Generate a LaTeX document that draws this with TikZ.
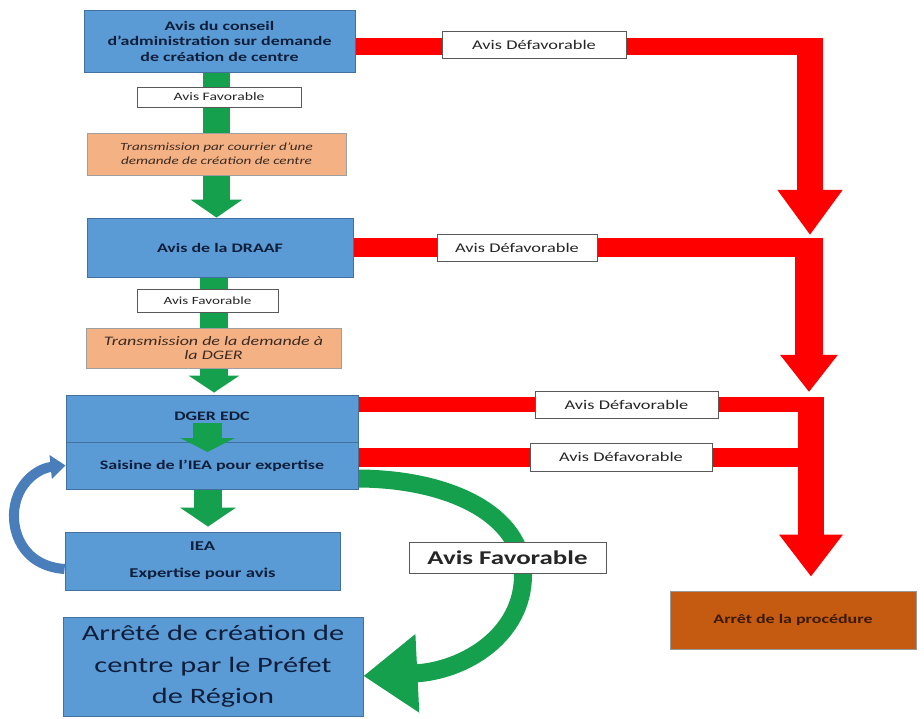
\documentclass[tikz,border=0pt]{standalone}
\usepackage{fontspec}
\setmainfont[FakeStretch=1.38]{Carlito}
\usetikzlibrary{arrows.meta}
\definecolor{boxblue}{HTML}{5B9BD5}
\definecolor{boxedge}{HTML}{41719C}
\definecolor{peach}{HTML}{F4B183}
\definecolor{okgreen}{HTML}{14A04C}
\definecolor{stopbrown}{HTML}{C55A11}
\definecolor{navytext}{HTML}{0F1E3A}
\definecolor{loopblue}{HTML}{4A7EBB}
\definecolor{stoptext}{HTML}{3B1A05}
\definecolor{peachtext}{HTML}{3A2A22}
\pgfdeclarelayer{bg}\pgfsetlayers{bg,main}
\begin{document}
\begin{tikzpicture}[x=1pt,y=-1pt,
  bluebox/.style={draw=boxedge, line width=0.8, fill=boxblue, text=navytext, align=center, inner sep=0},
  peachbox/.style={draw=gray!75, line width=0.8, fill=peach, text=peachtext, align=center, inner sep=0},
  tagbox/.style={draw=gray!70!black, line width=0.8, fill=white, text=black!85, inner sep=0, align=center},
  stopbox/.style={draw=gray!80, line width=0.8, fill=stopbrown, text=stoptext, inner sep=0, align=center},
  redband/.style={draw=red, line join=miter},
  greenarrow/.style={draw=okgreen, fill=okgreen},
]
\useasboundingbox (0,0) rectangle (924,719);

% ---- nodes ----
\node[bluebox, minimum width=271, minimum height=62, font=\fontsize{13}{15.5}\selectfont\bfseries] (b1) at (219.5,41)
  {Avis du conseil\\d’administration sur demande\\de création de centre};
\node[tagbox, minimum width=164, minimum height=20, font=\fontsize{11.4}{12}\selectfont] (f1) at (219,97)
  {Avis Favorable};
\node[peachbox, minimum width=259, minimum height=42, font=\fontsize{11}{14}\selectfont\itshape] (o1) at (216.5,154)
  {Transmission par courrier d’une\\demande de création de centre};
\node[bluebox, minimum width=266, minimum height=59, font=\fontsize{13}{15}\selectfont\bfseries] (b2) at (220,247.5)
  {Avis de la DRAAF};
\node[tagbox, minimum width=141, minimum height=23, font=\fontsize{11}{12}\selectfont] (f2) at (207.5,300.5)
  {Avis Favorable};
\node[peachbox, minimum width=255, minimum height=40, font=\fontsize{13}{14.5}\selectfont\itshape] (o2) at (213.5,348)
  {Transmission de la demande à\\la DGER};
\node[bluebox, minimum width=292, minimum height=47, font=\fontsize{13}{15}\selectfont\bfseries] (b3a) at (212,418.5)
  {\raisebox{4pt}{DGER EDC}};
\node[bluebox, minimum width=292, minimum height=47, font=\fontsize{13}{15}\selectfont\bfseries] (b3b) at (212,465.5)
  {Saisine de l’IEA pour expertise};
\node[bluebox, minimum width=275, minimum height=58, font=\fontsize{13.5}{27}\selectfont\bfseries] (iea) at (202.5,561)
  {IEA\\Expertise pour avis};
\node[bluebox, minimum width=300, minimum height=99, font=\fontsize{22}{31.5}\selectfont] (fin) at (213,666.5)
  {Arrêté de création de\\centre par le Préfet\\de Région};
\node[tagbox, minimum width=184, minimum height=27, font=\fontsize{13.3}{14}\selectfont] (d1) at (534,44.5)
  {Avis Défavorable};
\node[tagbox, minimum width=160, minimum height=27, font=\fontsize{13.3}{14}\selectfont] (d2) at (517,247.5)
  {Avis Défavorable};
\node[tagbox, minimum width=183, minimum height=27, font=\fontsize{13.3}{14}\selectfont] (d3) at (626.5,404.5)
  {Avis Défavorable};
\node[tagbox, minimum width=182, minimum height=28, font=\fontsize{13.3}{14}\selectfont] (d4) at (621,457)
  {Avis Défavorable};
\node[tagbox, minimum width=197, minimum height=31, font=\fontsize{19.5}{22}\selectfont\bfseries] (fav) at (507.5,557.5)
  {Avis Favorable};
\node[stopbox, minimum width=246, minimum height=58, font=\fontsize{13}{14}\selectfont\bfseries] (stop) at (793,620)
  {Arrêt de la procédure};

% ---- corner / tip coordinates ----
\coordinate (c1) at (823,46.5);
\coordinate (c2) at (823,247.5);
\coordinate (c3) at (824,404.5);
\coordinate (c4) at (811,457.5);
\coordinate (s1) at (810,38);
\coordinate (t1) at (810,235);
\coordinate (s2) at (809,238);
\coordinate (t2) at (809,392);
\coordinate (s3) at (811,397);
\coordinate (i1) at (207.5,423);
\coordinate (i2) at (207.5,452);

% ---- connectors behind the nodes ----
\begin{pgfonlayer}{bg}
  % red "Avis Defavorable" bands
  \draw[redband, line width=17] ([yshift=-5.5]b1.east) -- (c1);
  \draw[redband, line width=26, -{Triangle[length=45,width=62]}] (s1) -- (t1);
  \draw[redband, line width=19] (b2.east) -- (c2);
  \draw[redband, line width=28, -{Triangle[length=37,width=55]}] (s2) -- (t2);
  \draw[redband, line width=15] ([yshift=14]b3a.east) -- (c3);
  \draw[redband, line width=19] ([yshift=8]b3b.east) -- (c4);
  \draw[redband, line width=26, -{Triangle[length=42,width=61]}, shorten >=14]
       (s3) -- ([xshift=18]stop.north);
  % green straight arrows
  \draw[greenarrow, line width=27, -{Triangle[length=18,width=51]}]
       ([xshift=-3]b1.south) -- ([xshift=-3.5]b2.north);
  \draw[greenarrow, line width=28, -{Triangle[length=17,width=50]}, shorten >=2]
       ([xshift=-6]b2.south) -- ([xshift=2]b3a.north);
  \draw[greenarrow, line width=28, -{Triangle[length=19,width=55]}, shorten >=5]
       ([xshift=-4]b3b.south) -- ([xshift=5.5]iea.north);
  % green curved arrow to the final box
  \draw[greenarrow, fill=none, line width=18, -{Triangle[length=54,width=75,fill=okgreen]}]
       ([yshift=-13]b3b.east) .. controls (450,479) and (523,515) .. (523,575)
       .. controls (523,635) and (465,671) .. ([yshift=-9.5]fin.east);
  % blue loop arrow
  \draw[draw=loopblue, line width=10, -{Triangle[length=15,width=23,fill=loopblue]}]
       ([yshift=-8]iea.west) .. controls (22,566) and (10,530) .. (15,505)
       .. controls (20,480) and (40,468) .. (b3b.west);
\end{pgfonlayer}

% inner arrow inside the DGER box
\draw[greenarrow, line width=29, -{Triangle[length=14,width=54]}] (i1) -- (i2);
\end{tikzpicture}
\end{document}
